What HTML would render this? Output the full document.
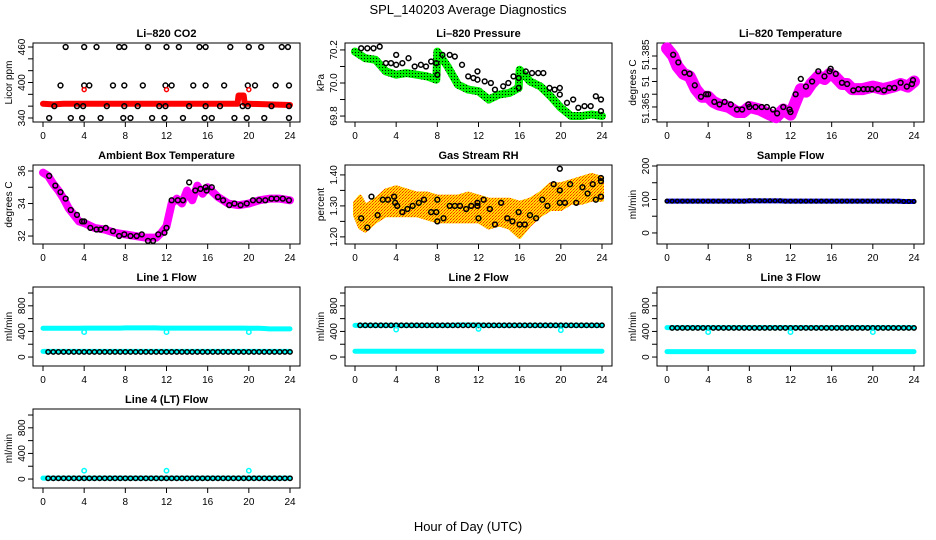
<!DOCTYPE html>
<html><head><meta charset="utf-8"><style>
html,body{margin:0;padding:0;background:#fff;}
svg{display:block;font-family:"Liberation Sans",sans-serif;}
</style></head><body>
<svg id="chart" width="936" height="540" viewBox="0 0 936 540" xmlns="http://www.w3.org/2000/svg">
<defs>
<pattern id="greenDots" patternUnits="userSpaceOnUse" width="3" height="3"><rect width="3" height="3" fill="#00ee00"/><rect x="1" y="1" width="1" height="1" fill="#000"/></pattern>
<pattern id="rhCheck" patternUnits="userSpaceOnUse" width="3" height="3"><rect width="3" height="3" fill="#ffdd00"/><rect width="1" height="1" fill="#ff2200"/><rect x="2" y="1" width="1" height="1" fill="#ff7700"/><rect x="1" y="2" width="1" height="1" fill="#ff4400"/></pattern>
</defs>
<text x="468" y="14" font-size="13" text-anchor="middle">SPL_140203  Average Diagnostics</text>
<text x="468" y="531" font-size="13" text-anchor="middle">Hour of Day (UTC)</text>
</svg>
<script>
// ---- data ----
const xTicks = [0,4,8,12,16,20,24];
const co2LineHours = [0,1,2,4,6,8,10,12,14,16,18,18.9,19,19.5,19.6,20,22,24];
const co2LineVals = [364,363,364,364,364,364,364,364,364,364,364,364,378,378,364,364,363,362];
const co2PtHours = [2.2,4,5.2,7.4,7.9,10.2,12,13.2,15.2,15.8,18.2,20,21.2,23.2,23.8, 1.7,4,4.5,6.8,7.9,9.7,11.9,12.5,14.6,15.8,17.6,19.9,20.6,22.6,23.9, 1.1,3.3,3.9,6.2,7.9,9.2,11.3,11.9,14.2,15.8,17.2,19.4,19.9,22.2,23.9, 0.6,2.7,3.8,5.6,7.8,8.5,10.6,11.8,13.6,15.7,16.4,18.6,19.8,21.5,23.9];
const co2PtVals = [460,460,460,460,460,460,460,460,460,460,460,460,460,460,460, 395,395,395,395,395,395,395,395,395,395,395,395,395,395,395, 360,360,360,360,360,360,360,360,360,360,360,360,360,360,360, 340,340,340,340,340,340,340,340,340,340,340,340,340,340,340];
const co2RedHours = [4,12,20];
const co2RedVals = [388,388,388];

const presHours = [0,1,2,3,4,5,6,7,7.9,8,9,10,11,12,13,14,15,15.9,16,17,18,19,20,21,22,23,24];
const presVals = [70.19,70.15,70.14,70.07,70.05,70.06,70.05,70.04,70.02,70.19,70.1,69.99,69.96,69.95,69.9,69.93,69.94,69.97,70.08,70.01,69.98,69.92,69.85,69.8,69.8,69.81,69.8];
const presPtHours = [0.6,1.2,1.8,2.4,3,3.5,4,4,4.6,5.2,5.8,6.4,6.9,7.4,7.9,8,8.5,9.2,9.7,10.4,11,11.5,11.9,11.9,12.6,13.2,13.6,14.4,14.9,15.4,15.9,15.9,16.6,17.2,17.8,18.3,18.9,19.4,19.9,19.9,20.6,21.2,21.7,22.3,22.9,23.4,23.9,23.9];
const presPtVals = [70.21,70.21,70.21,70.22,70.12,70.12,70.11,70.17,70.12,70.15,70.1,70.11,70.1,70.13,70.12,70.05,70.17,70.17,70.16,70.11,70.04,70.03,70.07,70.02,70.01,70.0,69.96,69.98,70.0,70.04,70.03,69.97,70.07,70.06,70.06,70.06,69.97,69.96,69.97,69.93,69.88,69.9,69.85,69.86,69.86,69.92,69.9,69.83];

const tempHours = [0,0.6,1,1.6,2.2,2.8,3.4,4,4.5,5,6,6.8,7.4,8,9,10,10.6,11.3,12,12.4,13,13.5,14,14.7,15.3,15.8,16.3,17,17.5,18,19,20,21,22,22.7,23.4,24];
const tempVals = [51.388,51.385,51.381,51.378,51.377,51.372,51.369,51.369,51.367,51.366,51.365,51.363,51.363,51.365,51.364,51.362,51.361,51.364,51.362,51.366,51.372,51.371,51.374,51.377,51.376,51.378,51.377,51.374,51.374,51.372,51.372,51.373,51.372,51.373,51.374,51.373,51.375];
const tempPtHours = [0.6,1.1,1.7,2.2,2.7,3.3,3.8,4,4.6,5.1,5.6,6.2,6.8,7.3,7.9,8,8.6,9.2,9.7,10.3,10.7,11.3,11.9,12,12.5,13,13.5,14.1,14.7,15.3,15.8,15.9,16.4,17,17.5,18.1,18.6,19.1,19.5,19.9,20.5,21.1,21.6,22.1,22.7,23.3,23.8,23.9];
const tempPtVals = [51.3855,51.3825,51.3785,51.378,51.3735,51.369,51.370,51.370,51.367,51.366,51.367,51.366,51.364,51.364,51.366,51.365,51.365,51.365,51.365,51.364,51.3625,51.365,51.364,51.363,51.370,51.376,51.373,51.375,51.379,51.377,51.379,51.380,51.378,51.3745,51.374,51.3715,51.372,51.372,51.372,51.372,51.372,51.3715,51.3725,51.3725,51.3745,51.373,51.374,51.3755];

const ambHours = [0,0.5,1,1.5,2,2.5,3,3.5,4,5,6,7,8,9,10,11,11.5,12,12.5,13,13.5,14,14.5,15,15.5,16,17,18,19,20,21,22,23,24];
const ambVals = [35.9,35.7,35.2,34.8,34.3,33.7,33.3,32.9,32.8,32.5,32.4,32.2,32.1,32.0,31.9,31.9,32.2,32.6,34.0,34.3,34.0,34.8,34.2,35.1,34.6,35.0,34.4,34.0,33.9,34.0,34.2,34.3,34.3,34.2];
const ambPtHours = [0.6,1.2,1.7,2.2,2.7,3.3,3.8,4,4.6,5.2,5.6,6.1,6.8,7.4,7.9,8.5,9.1,9.6,10.2,10.7,11.2,11.8,12,12.5,13.1,13.6,14.2,14.8,15.3,15.8,15.9,16.4,17,17.5,18.1,18.6,19.2,19.8,20.4,21,21.6,22.2,22.7,23.3,23.9];
const ambPtVals = [35.7,35.1,34.7,34.3,33.6,33.3,32.9,32.9,32.5,32.4,32.4,32.5,32.3,32.0,32.1,32.0,32.0,32.1,31.7,31.7,32.1,32.2,32.5,34.2,34.2,34.2,35.3,34.8,34.9,35.0,34.8,35.0,34.4,34.2,33.9,34.0,33.9,34.0,34.2,34.2,34.2,34.3,34.3,34.3,34.2];

const rhHours = [0,0.5,1,2,3,4,5,6,7,8,9,10,11,12,13,14,15,16,17,18,19,20,21,22,23,24];
const rhLow = [1.27,1.23,1.22,1.25,1.27,1.27,1.27,1.27,1.26,1.25,1.25,1.25,1.25,1.25,1.23,1.24,1.23,1.20,1.24,1.27,1.29,1.29,1.31,1.31,1.32,1.32];
const rhHigh = [1.31,1.33,1.30,1.32,1.35,1.36,1.35,1.34,1.34,1.33,1.33,1.33,1.34,1.33,1.32,1.32,1.32,1.31,1.32,1.34,1.37,1.37,1.38,1.39,1.40,1.39];
const rhPtHours = [0.6,1.2,1.6,2.2,2.7,3.2,3.8,3.9,4.1,4.6,5.1,5.6,6.2,6.7,7.4,7.9,8,8,8.6,9.2,9.7,10.2,10.8,11.3,11.9,11.9,12,12.5,13.1,13.6,14.2,14.8,15.3,15.9,16,16.5,17,17.6,18.2,18.7,19.3,19.9,19.9,19.9,20.4,20.9,21.5,22.1,22.6,23.1,23.4,23.9,23.9,23.9];
const rhPtVals = [1.26,1.23,1.33,1.27,1.32,1.32,1.33,1.31,1.30,1.28,1.29,1.30,1.31,1.32,1.28,1.28,1.32,1.25,1.26,1.30,1.30,1.30,1.29,1.30,1.31,1.30,1.26,1.32,1.29,1.24,1.31,1.26,1.25,1.28,1.24,1.24,1.27,1.26,1.32,1.30,1.37,1.35,1.31,1.42,1.31,1.37,1.31,1.36,1.34,1.37,1.32,1.38,1.33,1.39];

const flowHours = [0,0.5,1,1.5,2,2.5,3,3.5,4,4.5,5,5.5,6,6.5,7,7.5,8,8.5,9,9.5,10,10.5,11,11.5,12,12.5,13,13.5,14,14.5,15,15.5,16,16.5,17,17.5,18,18.5,19,19.5,20,20.5,21,21.5,22,22.5,23,23.5,24];
const sampleFlow = [95,95,95,95,95,95,95,95,95,95,95,95,95,95,95,95,96,96,96,96,96,96,96,95,95,95,95,95,95,95,95,95,95,95,95,95,95,95,95,95,95,95,95,95,95,95,94,94,94];
const line1Upper = [450,450,450,450,450,450,450,450,452,452,452,452,452,452,452,452,455,455,455,455,455,455,455,452,452,452,452,452,452,452,452,452,452,452,452,452,452,452,452,452,450,450,450,445,440,440,440,440,440];
const line1Lower = [88,88,88,88,88,88,88,88,88,88,88,88,88,88,88,88,88,88,88,88,88,88,88,88,88,88,88,88,88,88,88,88,88,88,88,88,88,88,88,88,88,88,88,88,88,88,88,88,88];
const line1Pts = [80,80,80,80,80,80,80,80,80,80,80,80,80,80,80,80,80,80,80,80,80,80,80,80,80,80,80,80,80,80,80,80,80,80,80,80,80,80,80,80,80,80,80,80,80,80,80,80,80];
const line2Upper = [495,495,495,495,495,495,495,495,495,495,495,495,495,495,495,495,495,495,495,495,500,500,500,500,500,495,495,495,495,495,495,495,495,495,495,495,495,495,495,495,495,495,495,495,495,495,495,495,495];
const line2Lower = [90,90,90,90,90,90,90,90,90,90,90,90,90,90,90,90,90,90,90,90,90,90,90,90,90,90,90,90,90,90,90,90,90,90,90,90,90,90,90,90,90,90,90,90,90,90,90,90,90];
const line2Pts = [495,495,495,495,495,495,495,495,495,495,495,495,495,495,495,495,495,495,495,495,495,495,495,495,495,495,495,495,495,495,495,495,495,495,495,495,495,495,495,495,495,495,495,495,495,495,495,495,495];
const line3Upper = [460,460,460,460,460,460,460,460,460,460,460,460,460,460,460,460,460,460,460,460,460,460,460,460,460,460,460,460,460,460,460,460,460,460,460,460,460,460,460,460,460,460,460,460,460,460,460,460,460];
const line3Lower = [85,85,85,85,85,85,85,85,85,85,85,85,85,85,85,85,85,85,85,85,85,85,85,85,85,85,85,85,85,85,85,85,85,85,85,85,85,85,85,85,85,85,85,85,85,85,85,85,85];
const line3Pts = [455,455,455,455,455,455,455,455,455,455,455,455,455,455,455,455,455,455,455,455,455,455,455,455,455,455,455,455,455,455,455,455,455,455,455,455,455,455,455,455,455,455,455,455,455,455,455,455,455];
const line4Lower = [15,15,15,15,15,15,15,15,15,15,15,15,15,15,15,15,15,15,15,15,15,15,15,15,15,15,15,15,15,15,15,15,15,15,15,15,15,15,15,15,15,15,15,15,15,15,15,15,15];
const line4Pts = [12,12,12,12,12,12,12,12,12,12,12,12,12,12,12,12,12,12,12,12,12,12,12,12,12,12,12,12,12,12,12,12,12,12,12,12,12,12,12,12,12,12,12,12,12,12,12,12,12];
const dipHours = [4,12,20];
const line1Dips = [390,390,390];
const line2Dips = [430,440,420];
const line3Dips = [390,390,390];
const line4Dips = [130,130,130];

// ---- drawing ----
const NS = "http://www.w3.org/2000/svg";
const svg = document.getElementById('chart');
function mk(tag, parent){ const e=document.createElementNS(NS,tag); parent.appendChild(e); return e; }

function panel(col,row,title,ylab,dom,yTicks,yLabels,name){
  const L=[33,345,657][col], T=[43,165,287,409][row], W=267, H=79;
  const g=mk('g',svg);
  
  
  const xs=h=>L+10+h*(247/24);
  const ys=v=>T+H-(v-dom[0])/(dom[1]-dom[0])*H;
  const t=mk('text',g); t.textContent=title;
  
  
  t.setAttribute('x',L+W/2); t.setAttribute('y',T-6); t.setAttribute('font-size','11'); t.setAttribute('font-weight','bold'); t.setAttribute('text-anchor','middle');
  const yl=mk('text',g); yl.textContent=ylab;
  
  
  yl.setAttribute('font-size','10'); yl.setAttribute('text-anchor','middle');
  yl.setAttribute('transform',`translate(${L-21},${T+H/2}) rotate(-90)`);
  const box=mk('rect',g);
  
  
  box.setAttribute('x',L); box.setAttribute('y',T); box.setAttribute('width',W); box.setAttribute('height',H);
  box.setAttribute('fill','none'); box.setAttribute('stroke','#000'); box.setAttribute('stroke-width','1');
  const ax=mk('g',g);
  
  
  xTicks.forEach(h=>{
    const l=mk('line',ax); l.setAttribute('x1',xs(h)); l.setAttribute('x2',xs(h)); l.setAttribute('y1',T+H); l.setAttribute('y2',T+H+5); l.setAttribute('stroke','#000');
    const tx=mk('text',ax); tx.textContent=h; tx.setAttribute('x',xs(h)); tx.setAttribute('y',T+H+17); tx.setAttribute('font-size','10'); tx.setAttribute('text-anchor','middle');
  });
  const ay=mk('g',g);
  
  
  yTicks.forEach(v=>{
    const l=mk('line',ay); l.setAttribute('x1',L-5); l.setAttribute('x2',L); l.setAttribute('y1',ys(v)); l.setAttribute('y2',ys(v)); l.setAttribute('stroke','#000');
  });
  yLabels.forEach(([v,s])=>{
    const tx=mk('text',ay); tx.textContent=s; tx.setAttribute('font-size','10'); tx.setAttribute('text-anchor','middle');
    tx.setAttribute('transform',`translate(${L-8},${ys(v)}) rotate(-90)`);
  });
  return {g,xs,ys};
}
function band(p,hours,vals,color,w,name){
  const pl=mk('polyline',p.g);
  
  
  pl.setAttribute('points',hours.map((h,i)=>p.xs(h)+','+p.ys(vals[i])).join(' '));
  pl.setAttribute('fill','none'); pl.setAttribute('stroke',color); pl.setAttribute('stroke-width',w);
  pl.setAttribute('stroke-linejoin','round'); pl.setAttribute('stroke-linecap','round');
}
function pts(p,hours,vals,color,name,r){
  const gg=mk('g',p.g);
  
  
  hours.forEach((h,i)=>{
    const c=mk('circle',gg);
    
    
    c.setAttribute('cx',p.xs(h)); c.setAttribute('cy',p.ys(vals[i])); c.setAttribute('r',r||2.4);
    c.setAttribute('fill','none'); c.setAttribute('stroke',color); c.setAttribute('stroke-width','1.5');
  });
}

// CO2
let p=panel(0,0,'Li–820 CO2','Licor ppm',[333.2,466.8],[340,360,380,400,420,440,460],[[340,'340'],[400,'400'],[460,'460']],'co2');
band(p,co2LineHours,co2LineVals,'#ff0000',6,'co2-series');
pts(p,co2PtHours,co2PtVals,'#000','co2-points');
pts(p,co2RedHours,co2RedVals,'#ff0000','co2-red-points',2);
// Pressure
p=panel(1,0,'Li–820 Pressure','kPa',[69.764,70.242],[69.8,69.9,70.0,70.1,70.2],[[69.8,'69.8'],[70.0,'70.0'],[70.2,'70.2']],'pressure');
band(p,presHours,presVals,'url(#greenDots)',8,'pressure-series');
pts(p,presPtHours,presPtVals,'#000','pressure-points');
// Temperature
p=panel(2,0,'Li–820 Temperature','degrees C',[51.3591,51.3901],[51.36,51.365,51.37,51.375,51.38,51.385],[[51.3645,'51.365'],[51.375,'51'],[51.3855,'51.385']],'li820-temperature');
band(p,tempHours,tempVals,'#ff00ff',12,'li820-temperature-series');
pts(p,tempPtHours,tempPtVals,'#000','li820-temperature-points');
// Ambient
p=panel(0,1,'Ambient Box Temperature','degrees C',[31.51,36.37],[32,33,34,35,36],[[32,'32'],[34,'34'],[36,'36']],'ambient-temperature');
band(p,ambHours,ambVals,'#ff00ff',8,'ambient-temperature-series');
pts(p,ambPtHours,ambPtVals,'#000','ambient-temperature-points');
// RH
p=panel(1,1,'Gas Stream RH','percent',[1.177,1.432],[1.20,1.25,1.30,1.35,1.40],[[1.20,'1.20'],[1.30,'1.30'],[1.40,'1.40']],'rh');
{
  const poly=mk('polygon',p.g);
  
  
  const up=rhHours.map((h,i)=>p.xs(h)+','+p.ys(rhHigh[i]));
  const lo=rhHours.map((h,i)=>p.xs(h)+','+p.ys(rhLow[i])).reverse();
  poly.setAttribute('points',up.concat(lo).join(' '));
  poly.setAttribute('fill','url(#rhCheck)'); poly.setAttribute('stroke','url(#rhCheck)'); poly.setAttribute('stroke-width','4'); poly.setAttribute('stroke-linejoin','round');
}
pts(p,rhPtHours,rhPtVals,'#000','rh-points');
// Sample flow
p=panel(2,1,'Sample Flow','ml/min',[-33,203],[0,50,100,150,200],[[0,'0'],[100,'100'],[200,'200']],'sample-flow');
band(p,flowHours,sampleFlow,'#0000ff',5,'sample-flow-series');
pts(p,flowHours,sampleFlow,'#000','sample-flow-points',1.8);
const fTicks=[0,200,400,600,800,1000], fLabels=[[0,'0'],[400,'400'],[800,'800']], fDom=[-140,1094];
// Line 1
p=panel(0,2,'Line 1 Flow','ml/min',fDom,fTicks,fLabels,'line1-flow');
band(p,flowHours,line1Upper,'#00ffff',5,'line1-upper-series');
band(p,flowHours,line1Lower,'#00ffff',5,'line1-lower-series');
pts(p,flowHours.slice(1),line1Pts.slice(1),'#000','line1-points',2.2);
pts(p,dipHours,line1Dips,'#00ffff','line1-dips',2.2);
// Line 2
p=panel(1,2,'Line 2 Flow','ml/min',fDom,fTicks,fLabels,'line2-flow');
band(p,flowHours,line2Upper,'#00ffff',5,'line2-upper-series');
band(p,flowHours,line2Lower,'#00ffff',5,'line2-lower-series');
pts(p,flowHours.slice(1),line2Pts.slice(1),'#000','line2-points',2.2);
pts(p,dipHours,line2Dips,'#00ffff','line2-dips',2.2);
// Line 3
p=panel(2,2,'Line 3 Flow','ml/min',fDom,fTicks,fLabels,'line3-flow');
band(p,flowHours,line3Upper,'#00ffff',5,'line3-upper-series');
band(p,flowHours,line3Lower,'#00ffff',5,'line3-lower-series');
pts(p,flowHours.slice(1),line3Pts.slice(1),'#000','line3-points',2.2);
pts(p,dipHours,line3Dips,'#00ffff','line3-dips',2.2);
// Line 4
p=panel(0,3,'Line 4 (LT) Flow','ml/min',fDom,fTicks,fLabels,'line4-flow');
band(p,flowHours,line4Lower,'#00ffff',5,'line4-series');
pts(p,flowHours.slice(1),line4Pts.slice(1),'#000','line4-points',2.2);
pts(p,dipHours,line4Dips,'#00ffff','line4-dips',2.2);
</script>
</body></html>
